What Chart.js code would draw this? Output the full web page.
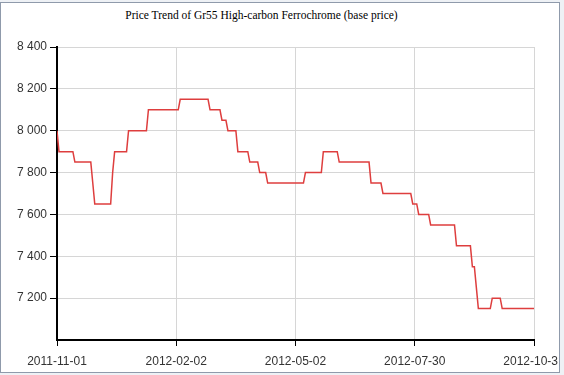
<!DOCTYPE html>
<html>
<head>
<meta charset="utf-8">
<title>Gr55 High-carbon Ferrochrome</title>
<script src="https://cdn.jsdelivr.net/npm/chart.js@4.4.1/dist/chart.umd.min.js"></script>
<style>
  html, body { margin: 0; padding: 0; background: #eef1f5; }
  #frame {
    position: absolute; left: 0; top: 2px;
    width: 558px; height: 369px;
    border: 1px solid #8f9aab; background: #fff; overflow: hidden;
  }
  #chartTitle {
    position: absolute; left: 0; top: 6px; width: 521px;
    text-align: center; font: 11.5px/12px "Liberation Serif", "Times New Roman", serif;
    color: #000; white-space: nowrap;
  }
  #chart { position: absolute; left: 0; top: 0; }
</style>
</head>
<body>
<div id="frame">
  <div id="chartTitle">Price Trend of Gr55 High-carbon Ferrochrome (base price)</div>
  <canvas id="chart" width="557" height="369"></canvas>
</div>
<script>
'use strict';

var chartTitle = 'Price Trend of Gr55 High-carbon Ferrochrome (base price)';

// x tick labels, one every 60 points
var tickLabels = ['2011-11-01', '2012-02-02', '2012-05-02', '2012-07-30', '2012-10-30'];
var tickEvery = 60;

// base price (241 points)
var prices = [
  8000, 7900, 7900, 7900, 7900, 7900, 7900, 7900, 7900, 7850, 7850, 7850, 7850, 7850, 7850, 7850, 7850, 7850, 7750, 7650,
  7650, 7650, 7650, 7650, 7650, 7650, 7650, 7650, 7800, 7900, 7900, 7900, 7900, 7900, 7900, 7900, 8000, 8000, 8000, 8000,
  8000, 8000, 8000, 8000, 8000, 8000, 8100, 8100, 8100, 8100, 8100, 8100, 8100, 8100, 8100, 8100, 8100, 8100, 8100, 8100,
  8100, 8100, 8150, 8150, 8150, 8150, 8150, 8150, 8150, 8150, 8150, 8150, 8150, 8150, 8150, 8150, 8150, 8100, 8100, 8100,
  8100, 8100, 8100, 8050, 8050, 8050, 8000, 8000, 8000, 8000, 8000, 7900, 7900, 7900, 7900, 7900, 7900, 7850, 7850, 7850,
  7850, 7850, 7800, 7800, 7800, 7800, 7750, 7750, 7750, 7750, 7750, 7750, 7750, 7750, 7750, 7750, 7750, 7750, 7750, 7750,
  7750, 7750, 7750, 7750, 7750, 7800, 7800, 7800, 7800, 7800, 7800, 7800, 7800, 7800, 7900, 7900, 7900, 7900, 7900, 7900,
  7900, 7900, 7850, 7850, 7850, 7850, 7850, 7850, 7850, 7850, 7850, 7850, 7850, 7850, 7850, 7850, 7850, 7850, 7750, 7750,
  7750, 7750, 7750, 7750, 7700, 7700, 7700, 7700, 7700, 7700, 7700, 7700, 7700, 7700, 7700, 7700, 7700, 7700, 7700, 7650,
  7650, 7650, 7600, 7600, 7600, 7600, 7600, 7600, 7550, 7550, 7550, 7550, 7550, 7550, 7550, 7550, 7550, 7550, 7550, 7550,
  7550, 7450, 7450, 7450, 7450, 7450, 7450, 7450, 7450, 7350, 7350, 7250, 7150, 7150, 7150, 7150, 7150, 7150, 7150, 7200,
  7200, 7200, 7200, 7200, 7150, 7150, 7150, 7150, 7150, 7150, 7150, 7150, 7150, 7150, 7150, 7150, 7150, 7150, 7150, 7150,
  7150
];

var yMin = 7000;
var yMax = 8400;
var yStep = 200;

// 8400 -> "8 400"
function spaced(v) {
  return String(v).replace(/\B(?=(\d{3})+(?!\d))/g, ' ');
}

document.getElementById('chartTitle').textContent = chartTitle;

var points = prices.map(function(v, i) {
  return { x: i, y: v };
});

var tickFont = { family: 'Liberation Sans, Arial, sans-serif', size: 12 };

new Chart(document.getElementById('chart'), {
  type: 'line',
  data: {
    datasets: [{
      data: points,
      borderColor: 'rgb(222,62,62)',
      borderWidth: 1.5,
      pointRadius: 0,
      tension: 0,
      fill: false
    }]
  },
  options: {
    responsive: false,
    animation: false,
    events: [],
    layout: { padding: { top: 44, right: 24, left: 0, bottom: 0 } },
    plugins: {
      legend: { display: false },
      tooltip: { enabled: false },
      title: { display: false }
    },
    scales: {
      x: {
        type: 'linear',
        min: 0,
        max: (tickLabels.length - 1) * tickEvery,
        afterFit: function(scale) {
          scale.height = 32;
          scale.paddingLeft = 0;
          scale.paddingRight = 0;
        },
        ticks: {
          stepSize: tickEvery,
          autoSkip: false,
          maxRotation: 0,
          padding: 8,
          color: '#333',
          font: tickFont,
          callback: function(v) {
            return tickLabels[v / tickEvery];
          }
        },
        grid: {
          color: '#d6d6d6',
          tickColor: '#000',
          tickLength: 6,
          lineWidth: 1
        },
        border: { color: '#000', width: 2 }
      },
      y: {
        min: yMin,
        max: yMax,
        afterFit: function(scale) {
          scale.width = 56;
        },
        ticks: {
          stepSize: yStep,
          padding: 3,
          color: '#333',
          font: tickFont,
          callback: function(v) {
            return v === yMin ? '' : spaced(v);
          }
        },
        grid: {
          color: '#d6d6d6',
          tickLength: 7,
          tickColor: function(ctx) {
            return ctx.tick && ctx.tick.value === yMin ? 'rgba(0,0,0,0)' : '#000';
          }
        },
        border: { color: '#000', width: 2 }
      }
    }
  }
});
</script>
</body>
</html>
